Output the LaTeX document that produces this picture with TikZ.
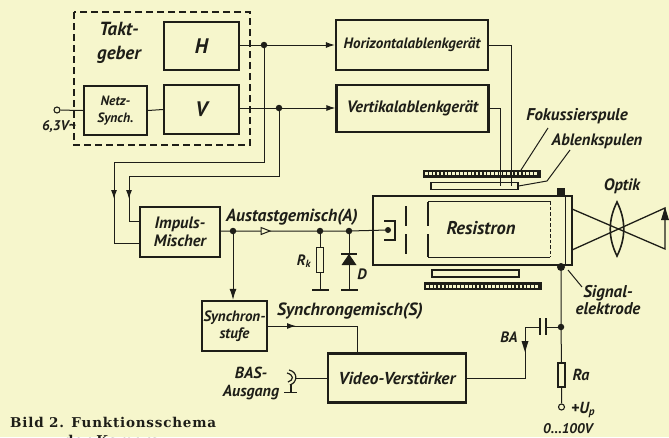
\documentclass[tikz,border=0pt]{standalone}
\usepackage{fontspec}
\setmainfont{PT Sans}
\newfontfamily\capfont[LetterSpace=6]{DejaVu Serif}
\usetikzlibrary{arrows.meta}
\definecolor{paper}{HTML}{F6F6CC}
\definecolor{ink}{HTML}{1E1E18}
\tikzset{
 blk/.style={draw=ink,line width=2.3pt,fill=none,inner sep=0pt,align=center,text=ink},
 lbl/.style={inner sep=0pt,align=center,text=ink},
 wire/.style={draw=ink,line width=1pt},
 tip/.style={-{Latex[length=9pt,width=6pt]}},
 jdot/.style={circle,fill=ink,inner sep=0pt,minimum size=6.5pt},
 term/.style={circle,draw=ink,line width=1.1pt,fill=paper,inner sep=0pt,minimum size=6pt},
 res/.style={draw=ink,line width=1.1pt,fill=paper,inner sep=0pt,minimum width=7pt,minimum height=24pt},
 gnd/.style={draw=ink,line width=1.8pt},
 coilb/.style={fill=ink,draw=ink,inner sep=0pt,minimum height=7pt,minimum width=117pt},
 coilw/.style={draw=ink,line width=1.1pt,fill=paper,inner sep=0pt,minimum height=7pt,minimum width=87pt},
 hatch/.style={draw=paper,line width=3pt,dash pattern=on 2.6pt off 1.3pt},
 tf/.style={font=\fontsize{#1}{#1}\selectfont\itshape\bfseries},
}
\begin{document}
\begin{tikzpicture}[x=1pt,y=-1pt]
\useasboundingbox (0,0) rectangle (669,437);
\clip (0,0) rectangle (669,437);
\fill[paper] (0,0) rectangle (669,437);
% blocks
\draw[draw=ink,line width=1.2pt,dash pattern=on 7pt off 4pt] (74,12) rectangle (250,145);
\node[lbl,font=\fontsize{19}{24}\selectfont\itshape\bfseries] (takt) at (119,43) {Takt-\\geber};
\node[blk,minimum width=75pt,minimum height=48pt,tf=21] (h) at (201.5,46) {H};
\node[blk,minimum width=75pt,minimum height=49pt,tf=21] (v) at (201.5,109.5) {V};
\node[blk,minimum width=63pt,minimum height=49pt,font=\fontsize{13.5}{17}\selectfont\itshape\bfseries] (netz) at (115.5,110.5) {Netz-\\Synch.};
\node[blk,minimum width=152pt,minimum height=50pt,tf=15] (hor) at (412,45) {Horizontalablenkgerät};
\node[blk,minimum width=152pt,minimum height=47pt,tf=16.5] (ver) at (412.5,108.5) {Vertikalablenkgerät};
\node[blk,minimum width=80pt,minimum height=50pt,font=\fontsize{16.5}{18}\selectfont\itshape\bfseries] (imp) at (180,232) {Impuls-\\Mischer};
\node[blk,minimum width=65pt,minimum height=50pt,font=\fontsize{15}{17}\selectfont\itshape\bfseries] (syn) at (234.5,326) {Synchron-\\stufe};
\node[blk,minimum width=138pt,minimum height=49pt,tf=17.3] (vid) at (397,378) {Video-Verstärker};
% tube
\node[blk,minimum width=199pt,minimum height=69pt] (tube) at (472.5,230.5) {};
\draw[wire] (428,201) -- (550,201) (428,257) -- (550,257);
\draw[draw=ink,line width=1pt,dash pattern=on 3.5pt off 2pt] (550,201) -- (550,257);
\draw[draw=ink,line width=2pt] (428,202) -- (428,226) (428,234) -- (428,257)
 (406,206) -- (406,226) (406,234) -- (406,254);
\draw[wire,line width=1.1pt] (384,221) -- (395,221) -- (395,240) -- (384,240);
\draw[wire] (565,196) -- (565,265);
\node[lbl,tf=18.5] (res) at (481,228) {Resistron};
\node[fill=ink,inner sep=0pt,minimum size=8pt] (top) at (561,192) {};
\node[jdot,minimum size=8pt] (sig) at (561,267) {};
\node[jdot,minimum size=6pt] (cath) at (388,230) {};
% coils
\node[coilb] (fo) at (481.5,173.5) {};
\draw[hatch] (425,173.5) -- (538,173.5);
\node[coilb] (fu) at (482.5,286) {};
\draw[hatch] (426,286) -- (539,286);
\node[coilw] (ao) at (474.5,186) {};
\node[coilw] (au) at (475.5,273.5) {};
% left input
\node[term] (in) at (57,110) {};
\draw[wire] (in) -- (netz.west);
\draw[wire] (netz.east) -- (v.west);
\node[lbl,tf=14] (u63) at (59,127) {6,3V{\char"007E}};
% outputs
\coordinate (hj) at (264,45);
\coordinate (vj) at (279,108);
\draw[wire,tip] (h.east |- hj) -- (hor.west |- hj);
\draw[wire,tip] (v.east |- vj) -- (ver.west |- vj);
\node[jdot] at (hj) {};
\node[jdot] at (vj) {};
\coordinate (i1) at (imp.west |- 0,243);
\coordinate (i2) at (imp.west |- 0,221);
\draw[wire,tip] (hj) -- (264,162) -- (114,162) -- (114,199);
\draw[wire] (114,195) -- (114,243) -- (i1);
\draw[wire,tip] (vj) -- (279,176) -- (129,176) -- (129,199);
\draw[wire] (129,195) -- (129,221) -- (i2);
% deflection
\coordinate (a1) at (500,186);
\coordinate (a2) at (511,186);
\draw[wire] (ver.east |- vj) -- (500,108) -- (a1);
\draw[wire] (hor.east |- hj) -- (511,45) -- (a2);
% Austast
\coordinate (aj) at (233,231);
\coordinate (rj) at (320,231);
\coordinate (dj) at (349,231);
\draw[wire] (imp.east |- aj) -- (aj) -- (rj) -- (dj) -- (cath);
\fill[fill=paper,draw=ink,line width=1pt] (261,227.5) -- (270,231) -- (261,234.5) -- cycle;
\node[jdot] at (aj) {};
\node[jdot] at (rj) {};
\node[jdot] at (dj) {};
\node[lbl,tf=17.5] (aus) at (292,217) {Austastgemisch(A)};
\draw[wire,-{Latex[length=11pt,width=7pt]}] (aj) -- (syn.north -| aj);
% Rk
\coordinate (g1) at (320,290);
\node[res,minimum height=25pt] (rk) at (320,260) {};
\draw[wire] (rj) -- (rk.north) (rk.south) -- (g1);
\draw[gnd] (312,290) -- (329,290);
\node[lbl,tf=15] (rkl) at (304,261) {R\textsubscript{k}};
% diode
\coordinate (g2) at (349,290);
\draw[wire] (dj) -- (g2);
\draw[gnd] (341,290) -- (358,290);
\fill[ink] (349,254) -- (356.5,265) -- (341.5,265) -- cycle;
\draw[draw=ink,line width=1.7pt] (341,254) -- (357,254);
\node[lbl,tf=15] (dl) at (362,274) {D};
% synchron
\coordinate (sv) at (357,326);
\draw[wire,tip] (syn.east) -- (296,326);
\draw[wire] (292,326) -- (sv) -- (sv |- vid.north);
\node[lbl,tf=17.7] (sl) at (350,311) {Synchrongemisch(S)};
% BAS
\coordinate (jk) at (296,378);
\draw[wire] (vid.west) -- (jk);
\draw[draw=ink,line width=1.2pt] (289,370) .. controls (298,372) and (298,382) .. (290,385);
\draw[draw=ink,line width=1.2pt] (287,373) .. controls (294,375) and (294,380) .. (288,382);
\draw[draw=ink,line width=1.8pt] (291,384) -- (291,392) (284,392.5) -- (297,392.5);
\node[lbl,font=\fontsize{16}{18}\selectfont\itshape\bfseries] (bas) at (251,383) {BAS-\\Ausgang};
% video out, capacitor
\coordinate (vc) at (525,378);
\coordinate (cp) at (525,327);
\coordinate (sj) at (561,327);
\coordinate (c1) at (540,327);
\coordinate (c2) at (546,327);
\draw[wire] (vid.east |- vc) -- (vc) -- (cp) -- (c1);
\draw[wire] (c2) -- (sj);
\draw[draw=ink,line width=2pt] (540,318) -- (540,335) (546,318) -- (546,335);
\fill[ink] (521.5,341) -- (528.5,341) -- (525,352) -- cycle;
\node[lbl,tf=15] (ba) at (509,337) {BA};
\node[res] (ra) at (561.5,375) {};
\node[term] (up) at (561.5,407) {};
\draw[wire] (sig) -- (sj) -- (ra.north) (ra.south) -- (up);
\node[jdot] at (sj) {};
\node[lbl,tf=16] (ral) at (581,375) {Ra};
\node[lbl,tf=16,anchor=west] (upl) at (571,410) {+U\textsubscript{p}};
\node[lbl,tf=14] (upv) at (568,429) {0...100V};
% labels with leaders
\node[lbl,tf=17] (fok) at (577,116) {Fokussierspule};
\node[lbl,tf=16.5] (abl) at (597,141) {Ablenkspulen};
\coordinate (fk) at (548,128);
\coordinate (ak) at (570,150);
\coordinate (ak2) at (547,181);
\draw[wire] (fk) -- (521,170);
\draw[wire] (ak) -- (ak2) -- (ao.east);
\node[lbl,font=\fontsize{17}{17}\selectfont\itshape\bfseries] (sigl) at (608,300) {Signal-\\elektrode};
\coordinate (sk) at (582,287);
\draw[wire] (sk) -- (568,270);
% optics
\node[lbl,tf=16.5] (opt) at (622,186) {Optik};
\coordinate (tt) at (572,209);
\coordinate (tb) at (572,250);
\coordinate (at) at (665,208);
\coordinate (ab) at (665,249);
\draw[wire,line width=1.3pt] (tt) -- (ab) -- (at) -- (tb);
\draw[draw=ink,line width=1.6pt] (617,202) .. controls (626,220) and (626,238) .. (617,256) .. controls (608,238) and (608,220) .. (617,202) -- cycle;
\fill[ink] (665,207) -- (669,220) -- (661,220) -- cycle;
% caption
\node[inner sep=0pt,anchor=west,text=ink,font=\fontsize{13.5}{14}\selectfont\capfont\bfseries] (cap1) at (10,422) {Bild 2. Funktionsschema};
\node[inner sep=0pt,text=ink,font=\fontsize{13.5}{14}\selectfont\capfont\bfseries] (cap2) at (112,440) {der Kamera};
\end{tikzpicture}
\end{document}
